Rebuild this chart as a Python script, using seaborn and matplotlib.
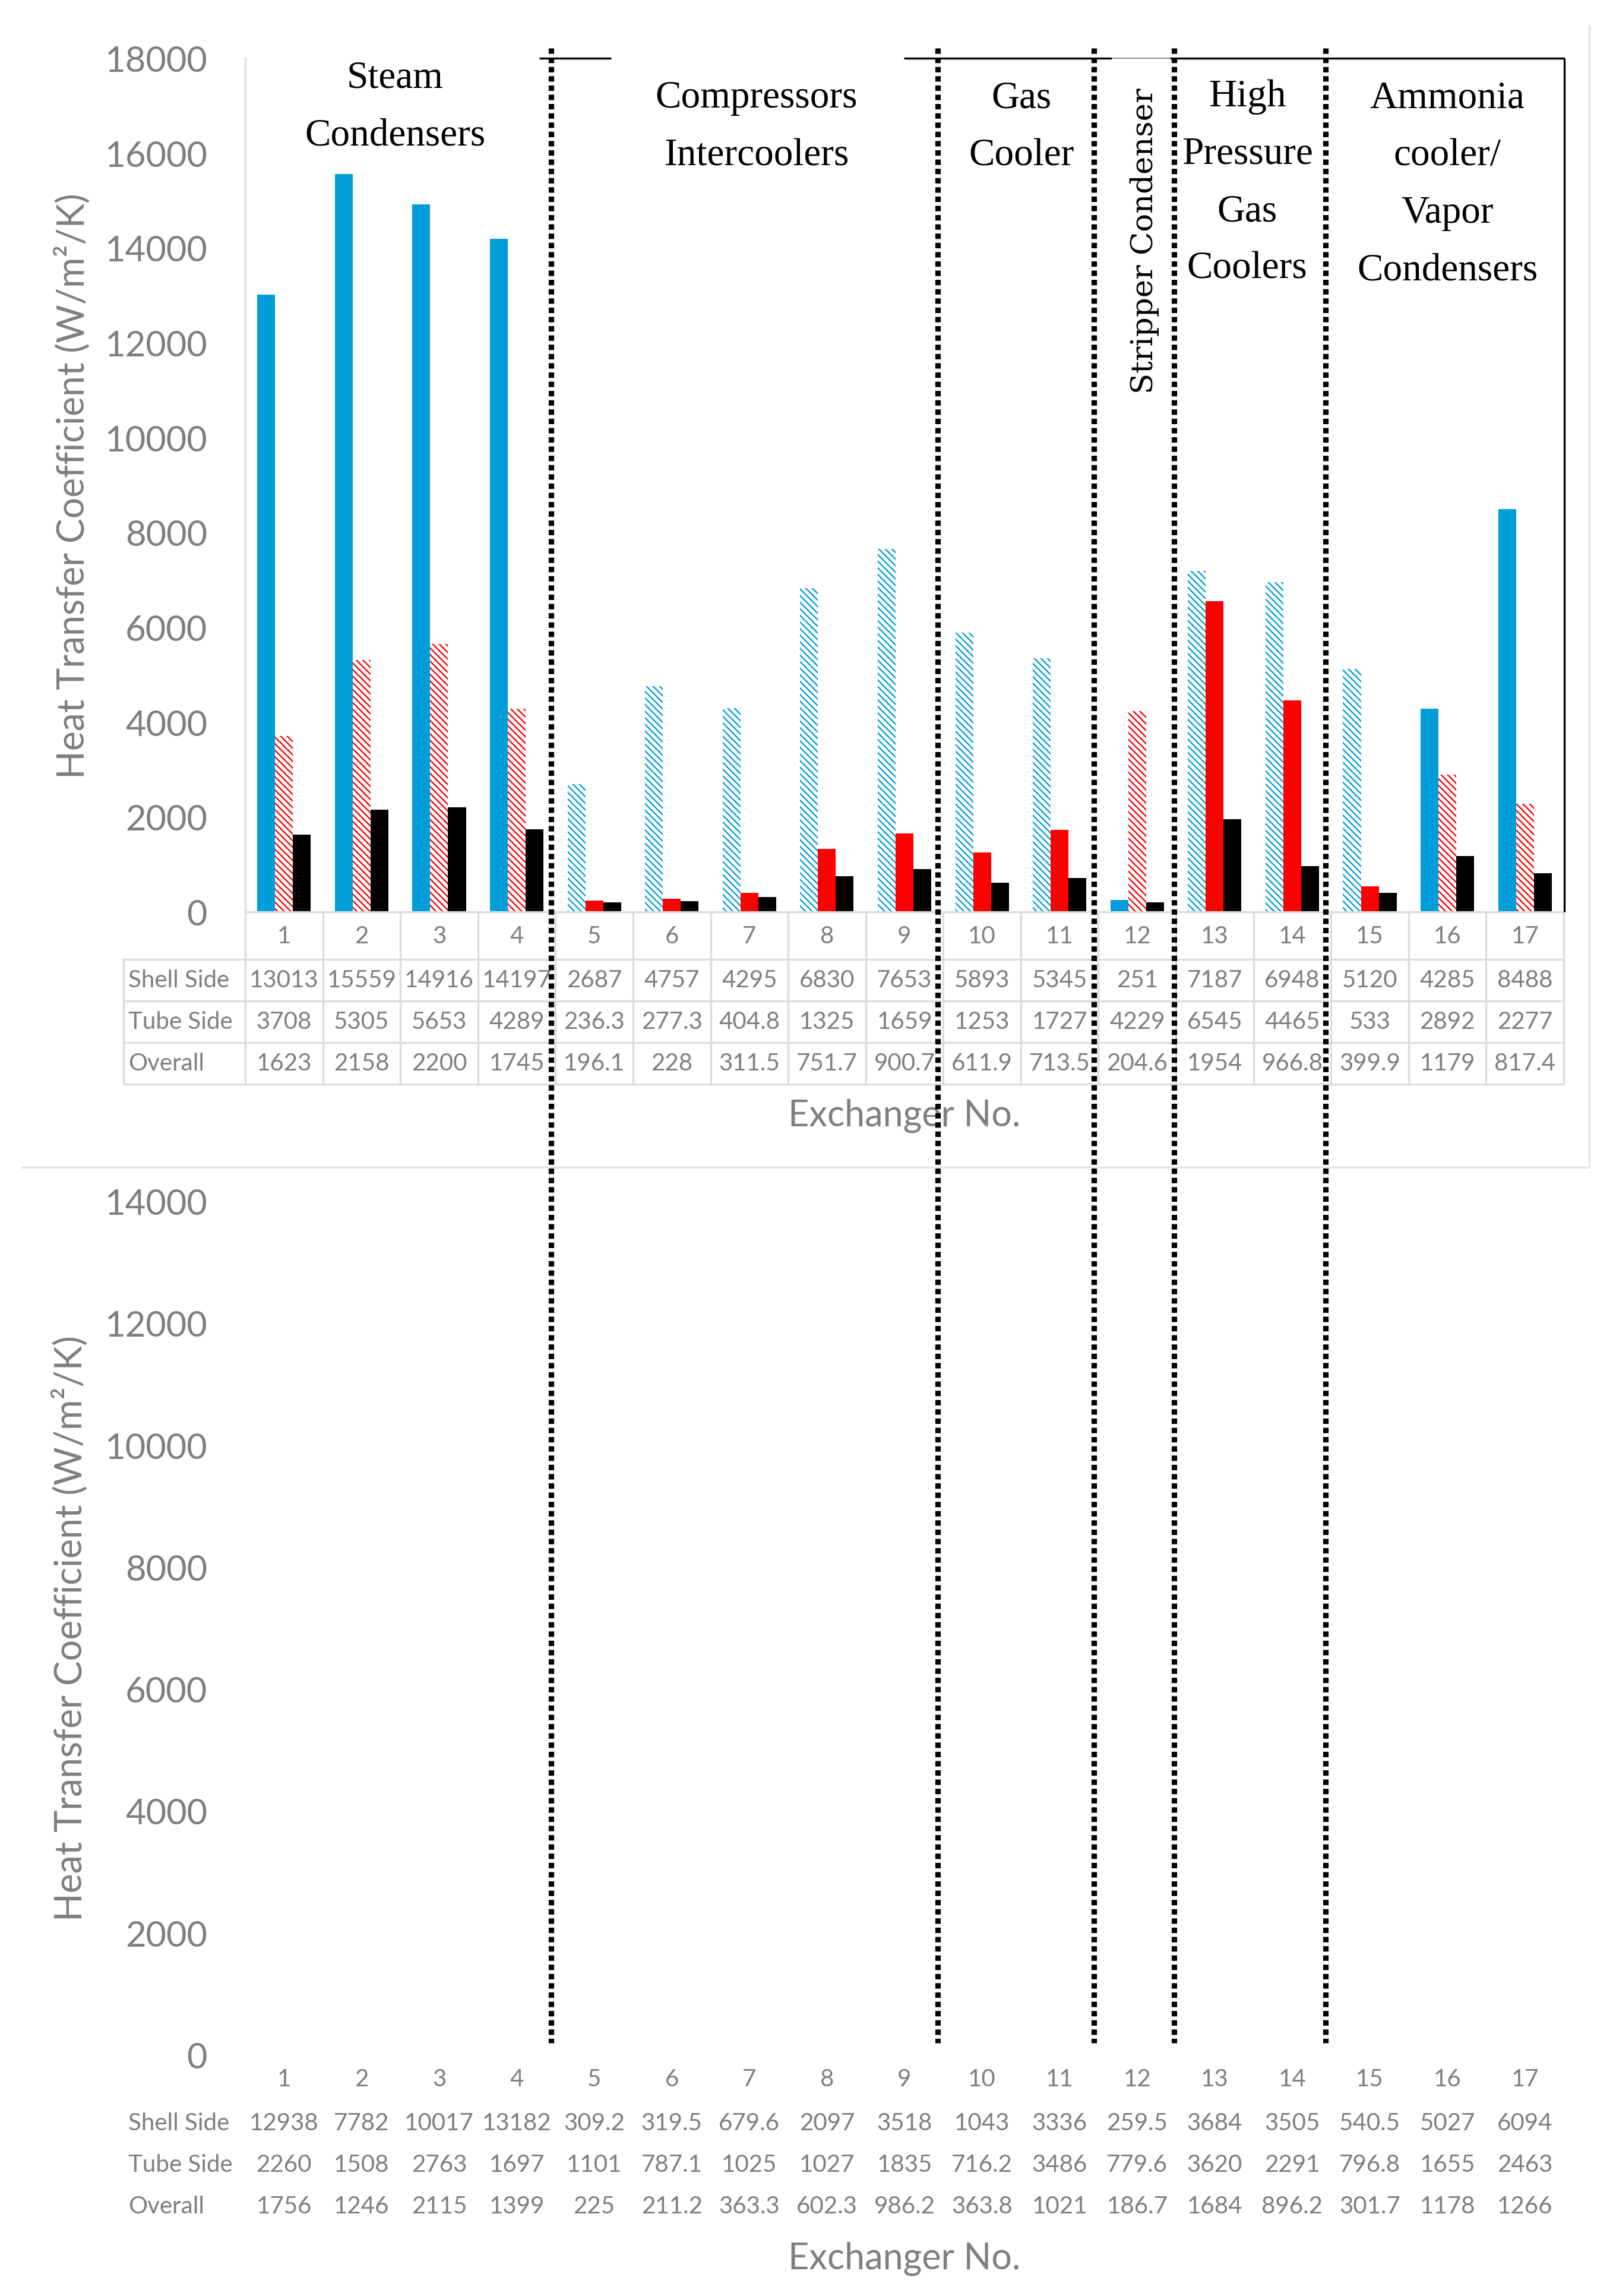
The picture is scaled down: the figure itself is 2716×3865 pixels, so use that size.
import numpy as np
import pandas as pd
import matplotlib
matplotlib.use('Agg')
import matplotlib.pyplot as plt
from matplotlib.lines import Line2D
from matplotlib.transforms import blended_transform_factory
import seaborn as sns

exchangers = [str(i) for i in range(1, 18)]
sides = ['Shell Side', 'Tube Side', 'Overall']

top_shell = [13013, 15559, 14916, 14197, 2687, 4757, 4295, 6830, 7653, 5893, 5345, 251, 7187, 6948, 5120, 4285, 8488]
top_tube = [3708, 5305, 5653, 4289, 236.3, 277.3, 404.8, 1325, 1659, 1253, 1727, 4229, 6545, 4465, 533, 2892, 2277]
top_overall = [1623, 2158, 2200, 1745, 196.1, 228, 311.5, 751.7, 900.7, 611.9, 713.5, 204.6, 1954, 966.8, 399.9, 1179, 817.4]

bottom_shell = [12938, 7782, 10017, 13182, 309.2, 319.5, 679.6, 2097, 3518, 1043, 3336, 259.5, 3684, 3505, 540.5, 5027, 6094]
bottom_tube = [2260, 1508, 2763, 1697, 1101, 787.1, 1025, 1027, 1835, 716.2, 3486, 779.6, 3620, 2291, 796.8, 1655, 2463]
bottom_overall = [1756, 1246, 2115, 1399, 225, 211.2, 363.3, 602.3, 986.2, 363.8, 1021, 186.7, 1684, 896.2, 301.7, 1178, 1266]

# which bars are drawn with a pattern fill
shell_hatched = [0, 0, 0, 0, 1, 1, 1, 1, 1, 1, 1, 0, 1, 1, 1, 0, 0]
tube_hatched = [1, 1, 1, 1, 0, 0, 0, 0, 0, 0, 0, 1, 0, 0, 0, 1, 1]

group_names = ['Steam\nCondensers', 'Compressors\nIntercoolers', 'Gas\nCooler',
               'Stripper Condenser', 'High\nPressure\nGas\nCoolers',
               'Ammonia\ncooler/\nVapor\nCondensers']
group_edges = [3.44, 8.43, 10.44, 11.48, 13.43]

BLUE = '#009ED9'
RED = '#FF0000'
GRAY = '#7f7f7f'
LGRAY = '#dcdcdc'

sns.set_theme(style='white')
plt.rcParams['font.family'] = ['Lato', 'DejaVu Sans']
plt.rcParams['hatch.linewidth'] = 0.85

W, H = 2716, 3866
def fx(px):
    return px / W
def fy(py):
    return 1 - py / H

fig = plt.figure(figsize=(W / 200, H / 200), dpi=200)
fig.patch.set_facecolor('white')
AX_H = 1437
ax1 = fig.add_axes([fx(413), fy(1536), 2220 / W, AX_H / H])
ax2 = fig.add_axes([fx(413), fy(3460), 2220 / W, AX_H / H])

# top chart bars
df = pd.DataFrame({'Exchanger': exchangers * 3,
                   'Side': np.repeat(sides, len(exchangers)),
                   'U': top_shell + top_tube + top_overall})
sns.barplot(data=df, x='Exchanger', y='U', hue='Side', order=exchangers, hue_order=sides,
            palette=[BLUE, RED, 'black'], width=0.69, saturation=1, errorbar=None,
            legend=False, ax=ax1)

for cont, flags, c in zip(ax1.containers, [shell_hatched, tube_hatched, [0] * 17], [BLUE, RED, 'black']):
    for bar, h in zip(cont, flags):
        bar.set_linewidth(0)
        bar.set_edgecolor(c)
        if h:
            bar.set_facecolor('white')
            bar.set_hatch('\\' * 6)

def style_axes(ax, top, show_spines):
    ax.set_xlim(-0.5, 16.5)
    ax.set_ylim(0, top)
    ax.set_xticks([])
    ticks = list(range(0, top + 1, 2000))
    ax.set_yticks(ticks)
    ax.set_yticklabels([str(t) for t in ticks])
    ax.tick_params(axis='y', length=0, pad=23, labelsize=21.5, labelcolor=GRAY)
    ax.set_xlabel('')
    ax.set_ylabel('')
    for s in ax.spines.values():
        s.set_visible(False)
    if show_spines:
        for s in ['left', 'bottom']:
            ax.spines[s].set_visible(True)
            ax.spines[s].set_color(LGRAY)
            ax.spines[s].set_linewidth(1.2)

style_axes(ax1, 18000, True)
style_axes(ax2, 14000, False)

def draw_table(ax, rows, grid):
    tr = blended_transform_factory(ax.transData, ax.transAxes)
    for i, lab in enumerate(exchangers):
        ax.text(i, -40 / AX_H, lab, transform=tr, ha='center', va='center',
                fontsize=14.5, color=GRAY, clip_on=False)
        for r, vals in enumerate(rows):
            ax.text(i, -(115 + 70 * r) / AX_H, f'{vals[i]:g}', transform=tr, ha='center',
                    va='center', fontsize=14.5, color=GRAY, clip_on=False)
    for r, name in enumerate(sides):
        ax.text((216 - 413) / 2220, -(115 + 70 * r) / AX_H, name, transform=ax.transAxes,
                ha='left', va='center', fontsize=14.5, color=GRAY, clip_on=False)
    ax.text(0.5, -342 / AX_H, 'Exchanger No.', transform=ax.transAxes, ha='center',
            va='center', fontsize=22, color=GRAY)
    if grid:
        for k in range(18):
            ax.plot([k - 0.5, k - 0.5], [0, -290 / AX_H], transform=tr, color=LGRAY,
                    lw=1.2, clip_on=False, solid_capstyle='butt')
        x0 = (208 - 413) / 2220
        for off in [80, 150, 220, 290]:
            ax.plot([x0, 1], [-off / AX_H] * 2, transform=ax.transAxes, color=LGRAY,
                    lw=1.2, clip_on=False, solid_capstyle='butt')
        ax.plot([x0, x0], [-80 / AX_H, -290 / AX_H], transform=ax.transAxes, color=LGRAY,
                lw=1.2, clip_on=False)

draw_table(ax1, [top_shell, top_tube, top_overall], True)
draw_table(ax2, [bottom_shell, bottom_tube, bottom_overall], False)

ylab = 'Heat Transfer Coefficient (W/m\u00b2/K)'
fig.text(fx(122), fy(818), ylab, rotation=90, ha='center', va='center', fontsize=22.5, color=GRAY)
fig.text(fx(118), fy(2741), ylab, rotation=90, ha='center', va='center', fontsize=22.5, color=GRAY)

def px_line(x0, y0, x1, y1, color, lw):
    fig.add_artist(Line2D([fx(x0), fx(x1)], [fy(y0), fy(y1)], transform=fig.transFigure,
                          color=color, lw=lw, solid_capstyle='butt'))

# chart area frame of the upper chart and the text box borders
px_line(35, 1966, 2676, 1966, '#e3e3e3', 1.2)
px_line(2676, 43, 2676, 1966, '#e3e3e3', 1.2)
px_line(908, 99, 1029, 99, 'black', 1.2)
px_line(1522, 99, 1872, 99, 'black', 1.2)
px_line(1872, 99, 1970, 99, '#9a9a9a', 0.8)
px_line(1970, 99, 2634, 99, 'black', 1.2)
px_line(2634, 99, 2634, 1536, 'black', 1.2)

# group separators
trd = blended_transform_factory(ax1.transData, fig.transFigure)
for b in group_edges:
    fig.add_artist(Line2D([b, b], [fy(82), fy(3440)], transform=trd, color='black', lw=3.3,
                          linestyle=(0, (1, 0.7)), dash_capstyle='butt'))

serif = ['Liberation Serif', 'DejaVu Serif']
label_pos = [(665, 180), (1274, 214), (1720, 214), None, (2100, 308), (2437, 311)]
for name, pos in zip(group_names, label_pos):
    if pos is None:
        continue
    fig.text(fx(pos[0]), fy(pos[1]), name, ha='center', va='center', multialignment='center',
             fontsize=23.5, family=serif, color='black', linespacing=1.82)
fig.text(fx(1927), fy(406), group_names[3], rotation=90, ha='center', va='center',
         fontsize=18.5, family=['DejaVu Serif'], color='black')

fig.savefig('out.png', dpi=200, facecolor='white')
